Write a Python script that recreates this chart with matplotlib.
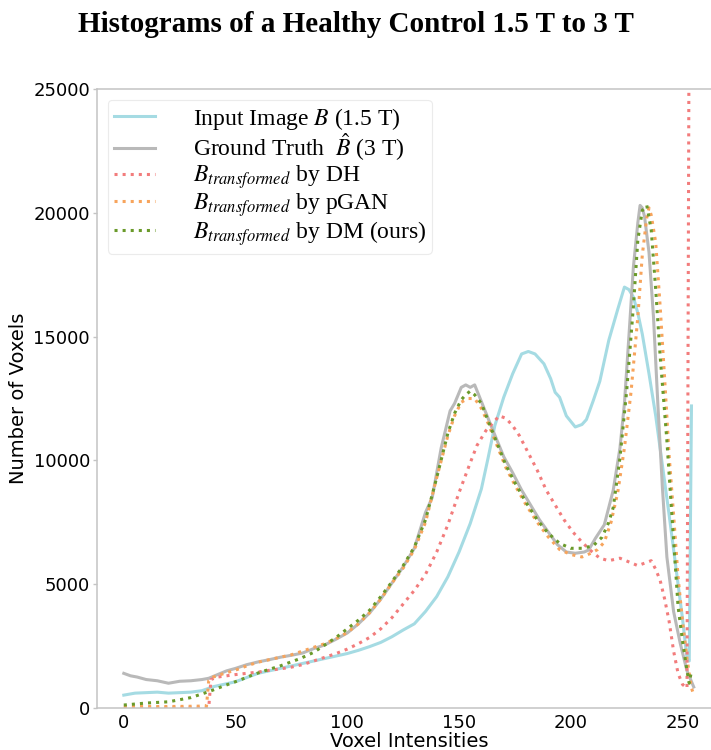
import matplotlib
matplotlib.use("Agg")
import matplotlib.pyplot as plt

# ---------------- data ----------------
input_x = [0, 5, 10, 15, 20, 25, 30, 35, 40, 45, 50, 55, 60, 65, 70, 75, 80, 85, 90, 95,
           100, 105, 110, 115, 120, 125, 130, 135, 140, 145, 150, 155, 160, 163, 166, 170,
           174, 178, 181, 184, 188, 191, 193, 195, 198, 202, 205, 207, 210, 213, 217, 221,
           224, 226, 228, 230, 232, 235, 238, 241, 244, 247, 250, 252, 253, 254]
input_y = [520, 600, 620, 640, 600, 620, 640, 700, 860, 960, 1060, 1230, 1400, 1500, 1600,
           1700, 1800, 1900, 2000, 2100, 2200, 2330, 2480, 2650, 2880, 3150, 3400, 3900,
           4500, 5300, 6300, 7450, 8850, 10100, 11400, 12550, 13500, 14300, 14400, 14300,
           13900, 13300, 12750, 12550, 11800, 11350, 11450, 11650, 12400, 13200, 14850,
           16100, 17000, 16900, 16600, 15950, 15100, 13500, 11800, 9800, 7800, 5700, 3600,
           2000, 1900, 12200]

gt_x = [0, 3, 6, 10, 15, 20, 25, 30, 35, 38, 42, 46, 50, 55, 60, 65, 70, 75, 80, 85, 90,
        95, 100, 105, 110, 115, 120, 125, 130, 135, 138, 142, 146, 148, 151, 153, 155, 157,
        159, 161, 165, 170, 174, 178, 182, 186, 190, 194, 198, 202, 206, 208, 211, 215,
        219, 222, 224, 226, 228, 230, 231, 232, 233, 235, 237, 239, 241, 243, 246, 249,
        252, 255]
gt_y = [1400, 1300, 1250, 1150, 1100, 1000, 1080, 1100, 1150, 1200, 1350, 1500, 1600, 1750,
        1860, 1950, 2050, 2130, 2220, 2400, 2550, 2780, 3030, 3400, 3840, 4400, 5050, 5700,
        6450, 7900, 8500, 10500, 12000, 12300, 12950, 13050, 12950, 13050, 12600, 12150,
        11250, 10150, 9500, 8800, 8200, 7600, 7100, 6600, 6300, 6250, 6300, 6380, 6850,
        7400, 8800, 10500, 12300, 15000, 17800, 19600, 20300, 20200, 19850, 18400, 15800,
        12200, 8900, 6100, 3900, 2600, 1500, 850]

dh_x = [0, 10, 20, 30, 38, 39, 42, 46, 50, 55, 60, 65, 70, 75, 80, 85, 90, 95, 100, 105,
        110, 115, 120, 125, 130, 135, 140, 145, 150, 155, 158, 162, 165, 168, 171, 174,
        177, 181, 185, 189, 193, 197, 201, 205, 209, 213, 217, 222, 226, 230, 233, 236,
        238, 240, 242, 244, 246, 248, 250, 252, 253]
dh_y = [0, 0, 0, 0, 0, 1150, 1250, 1300, 1350, 1400, 1450, 1520, 1580, 1650, 1750, 1900,
        2050, 2200, 2380, 2600, 2850, 3200, 3650, 4200, 4750, 5400, 6300, 7400, 8700, 9900,
        10600, 11200, 11500, 11800, 11700, 11400, 11000, 10300, 9600, 8800, 8200, 7600,
        7100, 6700, 6350, 6050, 5950, 6050, 5900, 5750, 5850, 5950, 5600, 5150, 4400,
        3500, 2300, 1400, 950, 800, 30000]

pgan_x = [0, 10, 20, 30, 37, 38, 40, 45, 50, 55, 60, 65, 70, 75, 80, 85, 90, 95, 100, 105,
          110, 115, 120, 125, 130, 135, 140, 145, 148, 151, 154, 157, 160, 163, 167, 171,
          175, 180, 185, 190, 195, 200, 205, 209, 212, 215, 218, 221, 224, 227, 230, 232,
          234, 235, 236, 238, 240, 242, 244, 246, 248, 250, 252, 254, 255]
pgan_y = [60, 60, 60, 70, 80, 1100, 1250, 1400, 1530, 1700, 1850, 1950, 2050, 2150, 2300,
          2450, 2600, 2800, 3050, 3400, 3850, 4400, 5050, 5650, 6400, 7500, 9300, 11000,
          11800, 12350, 12500, 12500, 12100, 11500, 10600, 9700, 9000, 8200, 7500, 6900,
          6400, 6200, 6100, 6250, 6400, 6700, 7500, 8700, 10500, 12800, 15800, 18300,
          19800, 20200, 19900, 18800, 16200, 13300, 10200, 7800, 5300, 3500, 2000, 800, 550]

dm_x = [0, 10, 20, 30, 38, 45, 52, 58, 64, 70, 79, 85, 90, 95, 100, 105, 110, 115, 120,
        125, 130, 135, 140, 145, 148, 151, 153, 155, 157, 160, 163, 167, 171, 175, 180,
        185, 190, 195, 200, 205, 210, 214, 217, 219, 222, 225, 228, 230, 232, 234, 236,
        238, 240, 243, 245, 247, 248, 250, 252, 253, 254]
dm_y = [120, 200, 250, 420, 660, 900, 1130, 1350, 1530, 1700, 2000, 2250, 2550, 2850, 3200,
        3550, 3950, 4500, 5100, 5750, 6500, 7600, 9300, 11100, 11900, 12450, 12650, 12800,
        12650, 12300, 11600, 10700, 9800, 9100, 8300, 7600, 7050, 6650, 6450, 6450, 6550,
        6900, 7500, 8100, 10100, 12800, 16200, 18900, 20100, 20300, 19300, 16900, 14200,
        10800, 8100, 5450, 4100, 2700, 1500, 1000, 1500]

x_ticks = [0, 50, 100, 150, 200, 250]
y_ticks = [0, 5000, 10000, 15000, 20000, 25000]

labels = [r"Input Image $B$ (1.5 T)",
          r"Ground Truth  $\hat{B}$ (3 T)",
          r"$B_{transformed}$ by DH",
          r"$B_{transformed}$ by pGAN",
          r"$B_{transformed}$ by DM (ours)"]

# ---------------- figure ----------------
plt.rcParams["mathtext.fontset"] = "stix"
fig = plt.figure(figsize=(7.11, 7.5), dpi=100)
ax = fig.add_axes([0.1364, 0.056, 0.877, 0.8253])

lw = 2.2
ax.plot(input_x, input_y, color="#a5dbe3", lw=lw, label=labels[0])
ax.plot(gt_x, gt_y, color="#b9b9b9", lw=lw, label=labels[1])
ax.plot(dh_x, dh_y, color="#f27c7c", lw=lw, ls=":", label=labels[2])
ax.plot(pgan_x, pgan_y, color="#f7a45c", lw=lw, ls=":", label=labels[3])
ax.plot(dm_x, dm_y, color="#6a9a2a", lw=lw, ls=":", label=labels[4])

ax.set_xlim(-12, 267)
ax.set_ylim(0, 25000)
ax.set_xticks(x_ticks)
ax.set_yticks(y_ticks)
ax.tick_params(axis="x", length=0, labelsize=13, pad=4)
ax.tick_params(axis="y", length=3, width=1, color="#c4c4c4", labelsize=13, pad=2)
for s in ax.spines.values():
    s.set_color("#c4c4c4")
    s.set_linewidth(1.1)

ax.set_xlabel("Voxel Intensities", fontsize=14, labelpad=0)
ax.set_ylabel("Number of Voxels", fontsize=14, labelpad=4)

leg = ax.legend(loc="upper left", prop={"family": "Liberation Serif", "size": 17},
                handlelength=1.75, handletextpad=1.6, labelspacing=0.0,
                borderaxespad=0.45, borderpad=0.25, frameon=True, fancybox=True)
leg.get_frame().set_edgecolor("#e6e6e6")
leg.get_frame().set_linewidth(0.8)

fig.text(0.5, 0.968, "Histograms of a Healthy Control 1.5 T to 3 T",
         ha="center", va="center", family="Liberation Serif", weight="bold", size=21)

fig.savefig("out.png", dpi=100)
